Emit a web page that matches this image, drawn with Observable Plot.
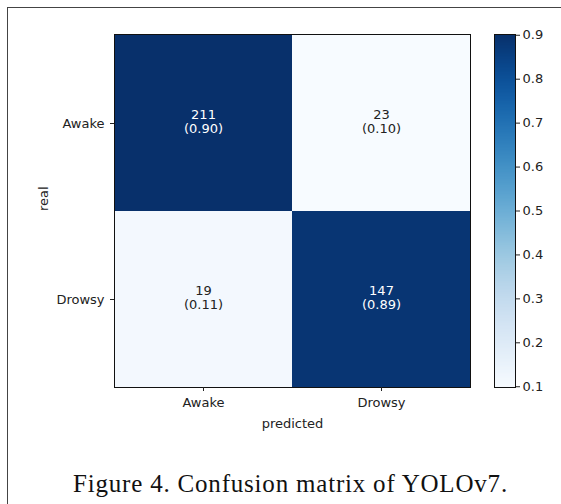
<!DOCTYPE html>
<html>
<head>
<meta charset="utf-8">
<script src="https://cdn.jsdelivr.net/npm/d3@7"></script>
<script src="https://cdn.jsdelivr.net/npm/@observablehq/plot@0.6"></script>
<style>
  html, body { margin: 0; padding: 0; background: #fff; }
  #wrap { position: relative; width: 561px; height: 504px; overflow: hidden; background: #fff; }
  #border { position: absolute; left: 7px; top: 7px; width: 600px; height: 600px; border-left: 1.5px solid #444; border-top: 1.5px solid #444; }
  #main { position: absolute; left: 0; top: 0; }
  #cbar { position: absolute; left: 494px; top: 0; }
  #caption { position: absolute; left: 10px; width: 561px; top: 470px; text-align: center; white-space: nowrap;
    font-family: "Liberation Serif", "Times New Roman", serif; font-size: 25px; letter-spacing: 0.8px; color: #111; }
</style>
</head>
<body>
<div id="wrap">
  <div id="border"></div>
  <div id="main"></div>
  <div id="cbar"></div>
  <div id="caption">Figure 4. Confusion matrix of YOLOv7.</div>
</div>
<script>
// Data
const realLabels = ["Awake", "Drowsy"];
const predictedLabels = ["Awake", "Drowsy"];
const countsAwake = [211, 23];   // real Awake → predicted Awake, Drowsy
const countsDrowsy = [19, 147];  // real Drowsy → predicted Awake, Drowsy
const colorbarTicks = [0.1, 0.2, 0.3, 0.4, 0.5, 0.6, 0.7, 0.8, 0.9];

const rows = [countsAwake, countsDrowsy];
const cells = [];
rows.forEach((row, i) => {
  const total = d3.sum(row);
  row.forEach((c, j) => {
    cells.push({real: realLabels[i], predicted: predictedLabels[j], count: c, rate: c / total});
  });
});
const extent = d3.extent(cells, d => d.rate);

const font = {fontFamily: "DejaVu Sans, sans-serif", fontSize: "13px", color: "#222"};
const W = 480, H = 440, mT = 34, mB = 53, mL = 114, mR = 10;

const main = Plot.plot({
  width: W, height: H,
  marginTop: mT, marginBottom: mB, marginLeft: mL, marginRight: mR,
  style: font,
  x: {domain: predictedLabels, padding: 0, label: null},
  y: {domain: realLabels, padding: 0, label: null},
  color: {type: "linear", scheme: "blues", domain: extent},
  marks: [
    Plot.cell(cells, {x: "predicted", y: "real", fill: "rate"}),
    Plot.text(cells, {
      x: "predicted", y: "real",
      text: d => `${d.count}\n(${d.rate.toFixed(2)})`,
      fill: d => d.rate > 0.5 ? "#fff" : "#222",
      lineHeight: 1.12, fontSize: 13, dy: -2
    }),
    Plot.frame({stroke: "#111", strokeWidth: 1}),
    Plot.axisX({tickSize: 4, tickPadding: 6, label: null, stroke: "#222", fill: "#222"}),
    Plot.axisY({tickSize: 4, tickPadding: 6, label: null, stroke: "#222", fill: "#222"}),
    Plot.text(["predicted"], {frameAnchor: "bottom", dy: 40, text: d => d, fill: "#222", fontSize: 13}),
    Plot.text(["real"], {frameAnchor: "left", dx: -71, rotate: -90, text: d => d, fill: "#222", fontSize: 13})
  ]
});
document.getElementById("main").appendChild(main);

const cbar = Plot.plot({
  width: 66, height: H,
  marginTop: mT, marginBottom: mB, marginLeft: 0, marginRight: 45,
  style: font,
  x: {domain: [0, 1], axis: null},
  y: {domain: extent, label: null, axis: null},
  color: {type: "linear", scheme: "blues", domain: extent},
  marks: [
    Plot.raster({x1: 0, x2: 1, y1: extent[0], y2: extent[1], width: 1, height: 256,
      fill: (x, y) => y}),
    Plot.frame({stroke: "#111", strokeWidth: 1}),
    Plot.axisY({anchor: "right", ticks: colorbarTicks, tickFormat: d3.format(".1f"),
      tickSize: 4, tickPadding: 3, label: null, stroke: "#222", fill: "#222"})
  ]
});
document.getElementById("cbar").appendChild(cbar);
</script>
</body>
</html>
